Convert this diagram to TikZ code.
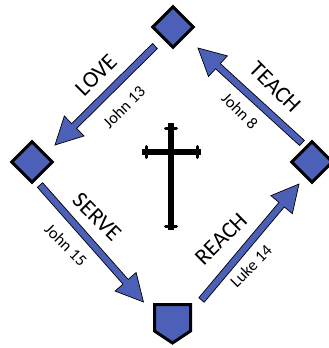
\documentclass[tikz,border=0pt]{standalone}
\usepackage{fontspec}
\setmainfont{Carlito}
\usetikzlibrary{calc}
\definecolor{myblue}{RGB}{76,96,184}
\tikzset{
  box/.style={draw=black, fill=myblue, line width=3pt, rectangle, rotate=45, minimum size=28.5pt, inner sep=0pt},
  big/.style={font=\fontsize{23}{23}\selectfont, inner sep=0pt},
  ref/.style={font=\fontsize{16.5}{16.5}\selectfont, inner sep=0pt},
  arrowpoly/.style={draw=black, line width=0.7pt, fill=myblue, line join=miter},
  crossline/.style={line width=5.5pt, draw=black},
  crossbud/.style={line width=3pt, draw=black, line cap=round},
}
\newcommand\bigarrow[2]{%
  \coordinate (hb) at ($(#2)!27pt!(#1)$);
  \draw[arrowpoly] ($(#1)!3.5pt!90:(#2)$) -- ($(hb)!3.5pt!90:(#2)$) -- ($(hb)!14pt!90:(#2)$)
    -- (#2) -- ($(hb)!14pt!-90:(#2)$) -- ($(hb)!3.5pt!-90:(#2)$) -- ($(#1)!3.5pt!-90:(#2)$) -- cycle;}
\begin{document}
\begin{tikzpicture}[x=1pt,y=-1pt]
\useasboundingbox (0,0) rectangle (329,348);
\clip (0,0) rectangle (329,348);
% boxes
\node[box] (nT) at (173,27) {};
\node[box] (nL) at (32,162) {};
\node[box] (nR) at (312,162) {};
\draw[draw=black, fill=myblue, line width=3pt, line join=miter]
  (154.5,304.5) -- (190.5,304.5) -- (190.5,331) -- (172.5,343) -- (154.5,331) -- cycle;
\coordinate (nB) at (172.5,324);
% arrow end points
\coordinate (loveS) at ([shift={(-18,19)}]nT.center);
\coordinate (loveE) at ([shift={(23,-17)}]nL.center);
\coordinate (teachS) at ([shift={(-10,-19)}]nR.center);
\coordinate (teachE) at ([shift={(25,21)}]nT.center);
\coordinate (serveS) at ([shift={(8,23)}]nL.center);
\coordinate (serveE) at ([shift={(-29,-22)}]nB);
\coordinate (reachS) at ([shift={(29,-24)}]nB);
\coordinate (reachE) at ([shift={(-13,22)}]nR.center);
\bigarrow{loveS}{loveE}
\bigarrow{teachS}{teachE}
\bigarrow{serveS}{serveE}
\bigarrow{reachS}{reachE}
% labels
\node[big, rotate=45] (tLove) at (96,75) {LOVE};
\node[ref, rotate=45] (rLove) at (124,107) {John 13};
\node[big, rotate=-45] (tTeach) at (275,87) {TEACH};
\node[ref, rotate=-45] (rTeach) at (240,111) {John 8};
\node[big, rotate=-45] (tServe) at (97,217) {SERVE};
\node[ref, rotate=-45] (rServe) at (66,245) {John 15};
\node[big, rotate=45] (tReach) at (221,239) {REACH};
\node[ref, rotate=45] (rReach) at (251,266) {Luke 14};
% cross
\draw[crossline] (171,123) -- (171,230);
\draw[crossline] (142,152) -- (201,152);
\draw[crossbud] (165.5,128) -- (176.5,128);
\draw[crossbud] (165.5,226) -- (176.5,226);
\draw[crossbud] (146,146.5) -- (146,157.5);
\draw[crossbud] (197,146.5) -- (197,157.5);
\end{tikzpicture}
\end{document}
